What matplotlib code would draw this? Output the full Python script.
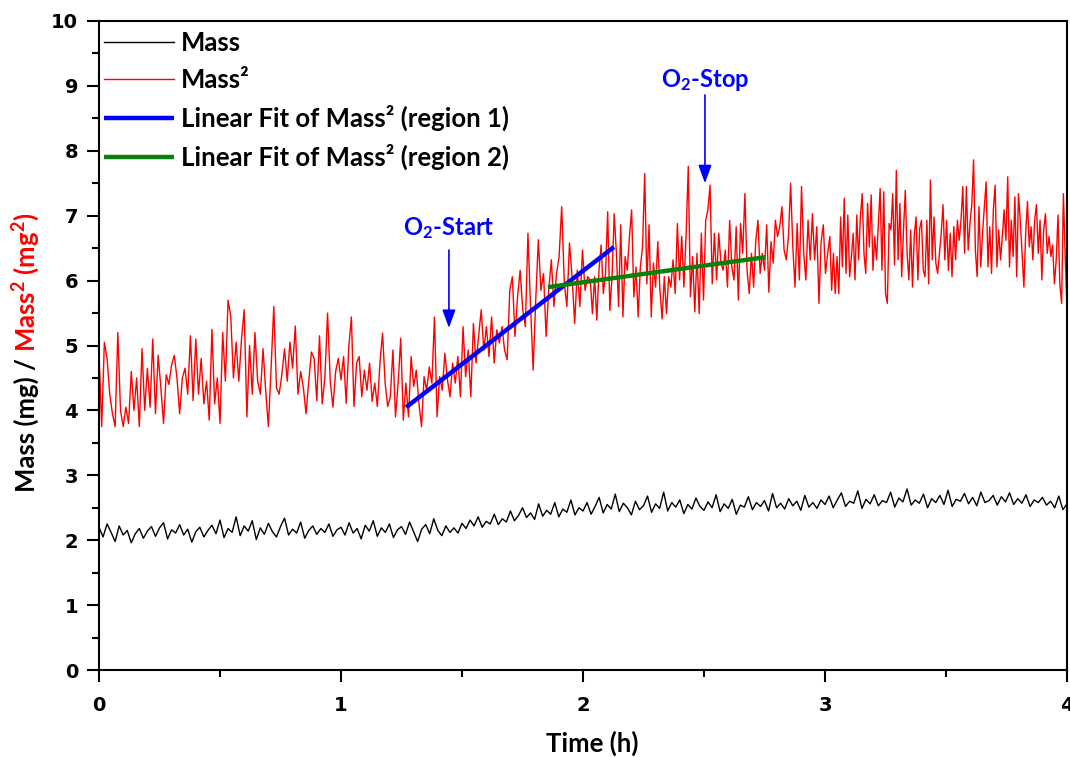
import numpy as np
import matplotlib
matplotlib.use('Agg')
import matplotlib.pyplot as plt

# Mass^2 (mg^2), four stretches of time
mass2_a = [4.90, 3.75, 5.05, 4.80, 4.25, 3.95, 3.75, 5.20, 4.00, 3.75, 4.05, 3.80, 4.60, 4.00, 4.50,
           3.75, 4.95, 4.00, 4.65, 4.05, 5.10, 3.95, 4.85, 4.35, 3.80, 4.55, 4.40, 4.70, 4.85, 4.50,
           3.95, 4.50, 4.65, 4.25, 5.15, 4.15, 5.10, 4.25, 4.80, 4.10, 4.45, 3.85, 5.25, 4.10, 4.50,
           3.80, 5.20, 4.45, 5.70, 5.45, 4.50, 5.05, 4.45, 5.10, 5.55, 3.90, 5.00, 4.25, 5.20, 4.45,
           4.25, 4.95, 4.30, 3.75, 4.65, 5.60, 4.35, 4.25, 4.55, 4.95, 4.45, 5.05, 4.65, 5.30, 4.25,
           4.60, 4.35, 3.95, 4.45, 4.90, 4.80, 4.15, 5.15, 4.10, 4.50, 5.50, 4.45, 4.05, 4.60, 4.80]
mass2_b = [4.47, 4.83, 4.11, 4.98, 5.44, 4.06, 4.73, 4.83, 4.21, 4.62, 4.31, 4.73, 4.14, 4.42, 4.06,
           4.73, 5.19, 4.42, 4.06, 4.21, 4.93, 3.90, 4.42, 5.11, 3.85, 4.42, 3.90, 4.83, 4.37, 4.62,
           4.11, 3.75, 4.52, 4.31, 4.67, 4.42, 5.44, 3.90, 4.52, 4.31, 4.88, 4.47, 4.21, 4.73, 4.42,
           4.83, 4.21, 5.29, 4.52, 4.93, 4.21, 5.34, 4.73, 5.14, 5.55, 4.93, 5.29, 4.83, 5.44, 4.73,
           5.24, 5.04, 5.29, 4.93, 4.78, 5.85, 6.06, 5.14, 5.75, 6.16, 5.55, 5.29, 6.73, 5.60, 4.62,
           5.70, 6.63, 5.85, 6.11, 5.14, 5.85, 6.32, 5.60, 6.11, 6.37, 7.14, 5.96, 5.60, 6.58, 6.06,
           5.34, 6.16, 5.60, 6.47, 5.85, 6.06]
mass2_c = [6.01, 5.49, 6.06, 5.39, 6.16, 6.55, 5.80, 6.11, 7.06, 5.54, 6.06, 7.03, 6.42, 5.60, 6.86,
           5.44, 6.37, 6.16, 6.68, 7.09, 5.75, 6.21, 5.44, 6.21, 6.52, 7.65, 5.95, 6.86, 5.44, 6.27,
           5.90, 6.60, 5.85, 5.41, 6.06, 5.49, 6.06, 5.90, 6.32, 5.80, 6.88, 6.01, 6.68, 5.90, 6.70,
           7.76, 5.75, 6.37, 5.52, 6.42, 5.49, 6.73, 5.70, 6.93, 7.09, 7.47, 5.95, 6.73, 6.01, 6.73,
           6.27, 6.16, 6.47, 5.90, 6.93, 6.21, 6.01, 6.83, 5.70, 6.88, 6.42, 7.34, 6.16, 5.80, 6.42,
           5.90, 6.62, 6.93, 6.11, 6.42, 6.16, 6.86, 5.82, 6.60, 6.27, 6.93, 6.68, 6.83, 7.14, 6.47,
           6.32, 6.68, 7.50, 6.52, 5.90, 6.88, 6.01, 7.45, 6.42, 6.01, 6.93, 6.32, 7.03, 6.32, 6.83,
           5.65, 6.60, 6.86, 6.11, 6.42]
mass2_d = [6.68, 5.85, 6.42, 5.80, 6.37, 5.80, 6.98, 6.21, 7.27, 6.11, 7.01, 6.06, 6.37, 6.73, 6.01,
           7.01, 6.32, 6.98, 7.34, 6.42, 6.11, 7.19, 6.52, 7.32, 6.16, 6.68, 6.32, 6.86, 7.42, 6.16,
           7.37, 5.80, 5.65, 6.88, 6.78, 7.34, 6.24, 7.70, 6.32, 7.19, 6.06, 6.78, 7.39, 6.42, 6.01,
           6.78, 5.90, 6.70, 6.98, 6.01, 6.80, 6.93, 6.16, 6.06, 6.93, 5.95, 7.55, 6.32, 6.98, 6.27,
           6.11, 6.42, 6.73, 7.17, 6.32, 6.93, 6.16, 6.73, 6.06, 6.83, 6.32, 6.93, 6.62, 6.93, 7.45,
           6.42, 7.45, 6.47, 6.88, 7.17, 7.86, 6.47, 6.06, 7.14, 6.21, 6.73, 7.14, 7.52, 6.21, 6.83,
           6.11, 7.09, 7.47, 6.21, 6.78, 6.32, 6.68, 7.09, 6.62, 7.60, 6.21, 6.93, 6.37, 7.29, 6.06,
           7.34, 6.93, 6.42, 5.90, 6.73, 7.22, 6.52, 6.83, 6.32, 6.93, 7.17, 6.42, 6.93, 6.01, 6.78,
           7.03, 6.42, 6.68, 6.37, 6.55, 5.95, 6.32, 7.01, 5.95, 5.65, 7.34, 6.37, 5.60]
mass2_spans = [(0.0, 1.0), (1.0, 2.03), (2.03, 3.02), (3.02, 4.0)]

# Mass (mg), one list per hour
mass_h1 = [2.20, 2.05, 2.25, 2.12, 1.98, 2.22, 2.08, 2.15, 1.96, 2.10, 2.18, 2.03, 2.14, 2.21, 2.06,
           2.19, 2.27, 2.02, 2.16, 2.11, 2.24, 2.08, 2.17, 1.97, 2.13, 2.20, 2.05, 2.15, 2.23, 2.10,
           2.31, 2.04, 2.18, 2.12, 2.36, 2.07, 2.22, 2.14, 2.30, 2.01, 2.19, 2.09, 2.26, 2.13, 2.05,
           2.21, 2.34, 2.08, 2.17, 2.11, 2.28, 2.03, 2.15, 2.22, 2.09, 2.18, 2.12, 2.25, 2.06, 2.16]
mass_h2 = [2.20, 2.08, 2.27, 2.11, 2.18, 2.02, 2.23, 2.14, 2.30, 2.06, 2.19, 2.12, 2.25, 2.04, 2.16,
           2.21, 2.09, 2.28, 2.13, 1.98, 2.17, 2.24, 2.10, 2.33, 2.15, 2.07, 2.22, 2.12, 2.19, 2.11,
           2.26, 2.18, 2.31, 2.22, 2.36, 2.20, 2.29, 2.25, 2.40, 2.24, 2.33, 2.28, 2.45, 2.30, 2.38,
           2.50, 2.35, 2.42, 2.32, 2.56, 2.37, 2.46, 2.40, 2.58, 2.36, 2.48, 2.43, 2.62, 2.39, 2.50]
mass_h3 = [2.45, 2.58, 2.40, 2.52, 2.66, 2.42, 2.55, 2.48, 2.71, 2.44, 2.57, 2.50, 2.39, 2.60, 2.47,
           2.53, 2.68, 2.43, 2.56, 2.49, 2.74, 2.45, 2.58, 2.51, 2.62, 2.41, 2.55, 2.48, 2.65, 2.52,
           2.46, 2.59, 2.50, 2.70, 2.44, 2.56, 2.49, 2.63, 2.40, 2.54, 2.51, 2.67, 2.47, 2.58, 2.52,
           2.61, 2.45, 2.72, 2.50, 2.57, 2.48, 2.64, 2.53, 2.60, 2.46, 2.69, 2.51, 2.58, 2.49, 2.62]
mass_h4 = [2.55, 2.68, 2.50, 2.62, 2.73, 2.52, 2.60, 2.57, 2.76, 2.49, 2.63, 2.56, 2.70, 2.53, 2.61,
           2.58, 2.74, 2.51, 2.65, 2.59, 2.79, 2.54, 2.62, 2.57, 2.71, 2.50, 2.64, 2.58, 2.69, 2.55,
           2.77, 2.52, 2.63, 2.60, 2.72, 2.56, 2.66, 2.53, 2.74, 2.58, 2.61, 2.69, 2.54, 2.67, 2.59,
           2.73, 2.55, 2.64, 2.57, 2.70, 2.52, 2.62, 2.58, 2.66, 2.54, 2.60, 2.50, 2.68, 2.47, 2.56]
mass_spans = [(0.0, 1.0), (1.0, 2.0), (2.0, 3.0), (3.0, 4.0)]

# linear fits of Mass^2: (intercept, slope, t_from, t_to)
fit1 = (0.40, 2.875, 1.269, 2.128)
fit2 = (4.948, 0.513, 1.855, 2.752)

# O2 markers: (time, label y, arrow top, arrow tip)
o2_start = (1.446, 6.81, 6.47, 5.27)
o2_stop = (2.504, 9.09, 8.86, 7.50)


def build(chunks, spans):
    ts, ys = [], []
    for i, (vals, (a, b)) in enumerate(zip(chunks, spans)):
        last = i == len(spans) - 1
        ts.append(np.linspace(a, b, len(vals), endpoint=last))
        ys.append(np.array(vals))
    return np.concatenate(ts), np.concatenate(ys)


t2, m2 = build([mass2_a, mass2_b, mass2_c, mass2_d], mass2_spans)
t1, m1 = build([mass_h1, mass_h2, mass_h3, mass_h4], mass_spans)

plt.rcParams['font.family'] = 'Lato'
plt.rcParams['font.weight'] = 'bold'
plt.rcParams['mathtext.fontset'] = 'custom'
plt.rcParams['mathtext.rm'] = 'Lato:bold'
plt.rcParams['mathtext.it'] = 'Lato:bold'
plt.rcParams['mathtext.bf'] = 'Lato:bold'
plt.rcParams['mathtext.default'] = 'rm'

FS = 18.5

fig = plt.figure(figsize=(10.7, 7.57), dpi=100)
ax = fig.add_axes([99 / 1070, 1 - 670 / 757, 968 / 1070, 649 / 757])

ax.plot(t1, m1, color='black', lw=1.0, label='Mass')
ax.plot(t2, m2, color='#ff0000', lw=1.0, label='Mass²')
for (b0, k, xa, xb), col, name in [(fit1, '#0000ff', 'Linear Fit of Mass² (region 1)'),
                                    (fit2, '#0a800a', 'Linear Fit of Mass² (region 2)')]:
    xx = np.array([xa, xb])
    ax.plot(xx, b0 + k * xx, color=col, lw=3.2, solid_capstyle='butt', label=name)

for (tx, ly, top, tip), txt in [(o2_start, 'O$_2$-Start'), (o2_stop, 'O$_2$-Stop')]:
    ax.annotate('', xy=(tx, tip), xytext=(tx, top),
                arrowprops=dict(arrowstyle='-|>,head_length=0.55,head_width=0.2',
                                color='#0000ff', lw=1.2, mutation_scale=20, shrinkA=0, shrinkB=0))
    ax.text(tx, ly, txt, color='#0000ff', fontsize=17, ha='center', va='center')

ax.set_xlim(0, 4)
ax.set_ylim(0, 10)
ax.set_xticks([0, 1, 2, 3, 4])
ax.set_xticks(np.arange(0.5, 4, 1), minor=True)
ax.set_yticks(range(0, 11))
ax.set_yticks(np.arange(0.5, 10, 1), minor=True)
for s in ax.spines.values():
    s.set_linewidth(1.5)
ax.tick_params(which='major', direction='out', length=8.5, width=1.5)
ax.tick_params(which='minor', direction='out', length=5, width=1.5)
ax.tick_params(axis='y', pad=6.5)
ax.tick_params(axis='x', pad=10)
for lab in ax.get_xticklabels() + ax.get_yticklabels():
    lab.set_fontfamily('DejaVu Sans')
    lab.set_fontweight('bold')
    lab.set_fontsize(14)

ax.set_xlabel('Time (h)', fontsize=FS, fontweight='bold')
ax.xaxis.set_label_coords((592 - 99) / 968, -0.093)

ax.legend(loc='upper left', bbox_to_anchor=(0.005, 0.984), frameon=False, fontsize=FS,
          handlelength=2.75, handletextpad=0.25, labelspacing=0.5, borderpad=0, borderaxespad=0)

# two-coloured y label
fig.canvas.draw()
r = fig.canvas.get_renderer()
xb = 35 / 1070
lab1 = fig.text(xb, 1 - 492 / 757, 'Mass (mg) / ', rotation=90, rotation_mode='anchor',
                ha='left', va='baseline', fontsize=FS, fontweight='bold', color='black')
bb = lab1.get_window_extent(r)
fig.text(xb, bb.y1 / fig.bbox.height, 'Mass$^2$ (mg$^2$)', rotation=90, rotation_mode='anchor',
         ha='left', va='baseline', fontsize=FS, fontweight='bold', color='#ff0000')

fig.savefig('out.png', dpi=100)
